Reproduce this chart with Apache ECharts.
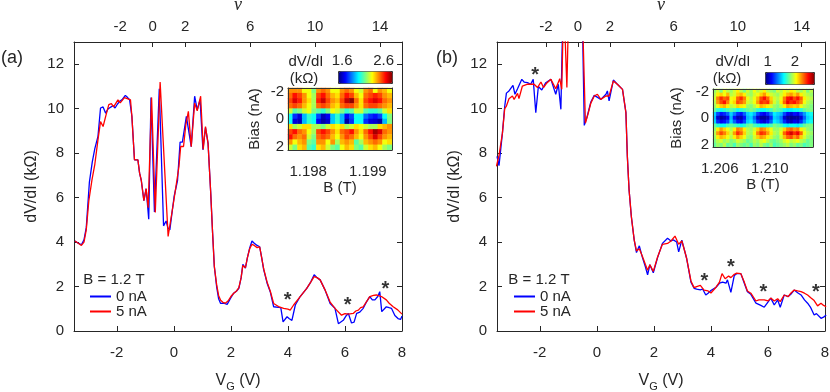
<!DOCTYPE html>
<html>
<head>
<meta charset="utf-8">
<script src="https://cdn.jsdelivr.net/npm/echarts@6.0.0/dist/echarts.min.js"></script>
<style>
  html, body { margin: 0; padding: 0; background: #fff; }
  #chart { width: 830px; height: 392px; }
</style>
</head>
<body>
<div id="chart"></div>
<script>
// ---- panel (a): dV/dI vs V_G ----
var vgA0 = [-3.47,-3.35,-3.24,-3.15,-3.07,-2.96,-2.86,-2.77,-2.66,-2.57,-2.48,-2.39,-2.30,-2.25,-2.13,-2.06,-1.98,-1.90,-1.82,-1.76,-1.70,-1.62,-1.55,-1.47,-1.38,-1.26,-1.20,-1.14,-1.05,-0.97,-0.88,-0.80,-0.68,-0.51,-0.36,-0.27,-0.21,-0.14,0.01,0.13,0.22,0.30,0.44,0.61,0.73,0.82,0.92,1.02,1.11,1.20,1.29,1.36,1.42,1.50,1.57,1.64,1.75,1.87,2.00,2.10,2.20,2.28,2.36,2.42,2.51,2.58,2.66,2.74,2.82,2.92,3.01,3.08,3.15,3.27,3.38,3.50,3.67,3.75,3.83,3.97,4.05,4.14,4.26,4.43,4.66,4.80,4.92,5.02,5.13,5.30,5.48,5.65,5.77,5.94,6.05,6.12,6.23,6.32,6.41,6.52,6.64,6.75,6.87,6.96,7.05,7.15,7.22,7.29,7.45,7.55,7.63,7.75,7.86,7.95,8.00];
var dvA0 = [4.05,3.95,3.88,4.1,4.65,6.7,7.6,8.2,8.75,10.03,10.08,9.8,10.0,10.08,10.14,10.03,10.2,10.33,10.4,10.5,10.6,10.5,10.4,9.65,7.7,7.7,7.1,6.77,5.86,6.4,5.03,10.5,5.35,10.9,4.73,4.95,4.65,4.55,6.05,6.77,8.5,8.5,9.65,8.29,10.56,9.95,10.4,8.15,9.15,8.44,6.3,4.4,2.9,2.0,1.45,1.24,1.25,1.2,1.5,1.7,1.8,1.92,2.4,3.0,2.83,3.3,3.74,4.05,3.95,3.85,3.79,3.3,2.76,2.15,1.77,1.09,1.06,1.05,0.41,0.64,0.55,0.48,1.17,1.55,1.92,2.2,2.53,2.4,2.3,1.85,1.24,1.02,0.33,0.48,0.7,0.79,0.36,0.4,0.79,0.85,1.02,1.3,1.55,1.4,1.4,1.55,1.77,0.87,1.09,1.05,1.02,0.7,0.56,0.52,0.67];
var vgA5 = [-3.47,-3.35,-3.24,-3.15,-3.07,-2.98,-2.87,-2.77,-2.66,-2.57,-2.48,-2.38,-2.28,-2.19,-2.11,-1.96,-1.88,-1.73,-1.61,-1.52,-1.47,-1.38,-1.26,-1.20,-1.14,-1.05,-0.97,-0.90,-0.78,-0.65,-0.48,-0.20,0.01,0.18,0.24,0.34,0.42,0.51,0.61,0.73,0.82,0.94,1.03,1.11,1.20,1.29,1.36,1.42,1.50,1.57,1.64,1.72,1.80,1.90,2.00,2.10,2.20,2.28,2.36,2.42,2.51,2.58,2.66,2.74,2.82,2.92,3.01,3.08,3.15,3.27,3.38,3.50,3.67,3.85,4.00,4.08,4.20,4.43,4.66,4.80,4.92,5.02,5.13,5.30,5.48,5.65,5.88,6.00,6.12,6.29,6.38,6.47,6.55,6.64,6.87,7.00,7.10,7.28,7.45,7.55,7.69,7.85,8.00];
var dvA5 = [4.05,3.95,3.85,4.0,4.55,5.86,6.8,7.5,8.6,9.42,9.2,9.7,10.18,10.23,10.08,10.4,10.26,10.5,10.44,10.4,9.65,7.7,7.7,7.1,6.77,5.86,6.4,5.55,10.5,5.33,11.2,4.25,5.95,7.4,8.3,8.3,9.27,9.88,8.29,10.25,9.9,10.56,8.17,9.2,8.44,6.3,4.4,2.9,2.1,1.6,1.38,1.29,1.25,1.35,1.55,1.7,1.8,1.95,2.4,2.95,2.85,3.3,3.7,3.9,3.85,3.75,3.78,3.3,2.8,2.2,1.8,1.24,1.1,1.02,0.98,0.94,1.17,1.55,1.92,2.2,2.45,2.4,2.3,1.85,1.3,1.02,0.71,0.78,0.76,0.79,0.9,0.94,1.05,1.09,1.55,1.6,1.62,1.55,1.4,1.25,1.09,0.95,0.76];
var starsA = [[3.99, 1.58], [6.09, 1.39], [7.42, 2.08]];

// ---- panel (b) ----
var vgB0 = [-3.50,-3.43,-3.31,-3.23,-3.17,-3.08,-2.94,-2.87,-2.78,-2.73,-2.63,-2.55,-2.43,-2.32,-2.23,-2.14,-2.05,-1.93,-1.79,-1.61,-1.44,-1.35,-1.26,-1.18,-1.00,-0.52,-0.44,-0.35,-0.21,-0.09,-0.04,0.14,0.32,0.37,0.43,0.49,0.58,0.72,0.90,1.02,1.07,1.13,1.21,1.31,1.39,1.49,1.60,1.70,1.78,1.86,1.98,2.13,2.30,2.48,2.60,2.68,2.80,2.87,2.98,3.08,3.15,3.30,3.41,3.50,3.63,3.71,3.82,3.90,4.00,4.18,4.30,4.41,4.53,4.58,4.70,4.82,4.90,5.05,5.17,5.28,5.40,5.58,5.75,5.87,6.00,6.10,6.22,6.34,6.43,6.57,6.71,6.80,6.92,7.04,7.16,7.28,7.39,7.50,7.62,7.70,7.86,7.95,8.04];
var dvB0 = [7.86,7.44,8.9,10.1,10.7,10.8,11.05,10.65,10.9,10.84,11.32,11.2,11.17,11.1,11.32,9.82,11.0,10.84,11.17,11.32,10.65,11.1,9.97,15,16,15,9.25,9.6,10.3,10.6,10.68,10.42,10.65,10.8,10.35,10.39,11.29,11.1,10.87,9.82,7.86,6.36,5.15,4.1,3.53,3.83,3.3,2.9,2.53,2.98,2.62,3.3,3.94,4.17,4.05,4.1,4.0,3.56,4.09,3.6,3.26,2.2,1.92,1.88,1.85,1.89,1.62,1.7,1.82,1.97,2.15,2.2,2.15,2.3,1.74,2.5,2.58,2.58,2.15,1.77,1.65,1.25,1.15,1.07,1.3,1.48,1.17,1.4,1.07,1.62,1.55,1.65,1.84,1.72,1.62,1.4,1.25,1.05,0.72,0.78,0.57,0.62,0.72];
var vgB5 = [-3.52,-3.43,-3.31,-3.23,-3.17,-3.08,-2.96,-2.90,-2.78,-2.73,-2.61,-2.43,-2.20,-2.08,-1.96,-1.87,-1.77,-1.61,-1.44,-1.30,-1.23,-1.16,-1.05,-0.98,-0.52,-0.40,-0.30,-0.21,-0.09,0.02,0.14,0.32,0.43,0.58,0.72,0.90,1.02,1.07,1.13,1.21,1.31,1.39,1.49,1.60,1.70,1.78,1.86,1.98,2.13,2.30,2.48,2.60,2.74,2.87,2.98,3.08,3.15,3.30,3.41,3.50,3.63,3.76,3.90,4.00,4.18,4.30,4.39,4.50,4.62,4.70,4.82,4.90,5.05,5.17,5.28,5.40,5.58,5.68,5.87,6.00,6.10,6.22,6.34,6.43,6.57,6.71,6.80,6.92,7.04,7.16,7.28,7.39,7.50,7.62,7.74,7.86,7.95,8.04];
var dvB5 = [7.41,7.9,8.9,10.0,10.12,10.45,10.57,10.42,10.69,10.45,11.02,11.1,11.1,10.95,11.2,10.95,11.13,11.32,10.9,11.35,10.87,15,10.95,15,15,9.35,9.8,10.25,10.57,10.65,10.42,10.57,10.57,11.25,11.1,10.87,9.82,7.86,6.36,5.15,4.1,3.6,3.7,3.35,3.0,2.73,2.98,2.68,3.33,3.9,3.94,4.05,4.27,3.9,4.05,3.6,3.26,2.25,1.95,2.0,2.05,1.84,1.8,1.71,1.97,2.2,2.58,2.35,2.47,2.4,2.55,2.6,2.58,2.2,1.8,1.7,1.35,1.4,1.4,1.35,1.48,1.35,1.45,1.32,1.62,1.55,1.7,1.84,1.8,1.77,1.7,1.62,1.5,1.37,1.13,1.25,1.15,1.1];
var starsB = [[-2.16, 11.74], [3.77, 2.47], [4.70, 3.08], [5.84, 1.94], [7.68, 1.94]];

// top axis (filling factor) ticks
var nuTicks = [-2, 0, 2, 6, 10, 14];
var vgTicks = [-2, 0, 2, 4, 6, 8];
var dvTicks = [0, 2, 4, 6, 8, 10, 12];

// ---- insets: dV/dI maps (rows: bias -2 .. 2, cols: B) ----
var mapA = [
  [2.45,2.45,2.45,2.3,2.3,2.15,2.45,2.5,2.45,2.3,2.3,2.45,2.5,2.45,2.3,2.25,2.45,2.5,2.3,2.45,2.4,2.3],
  [2.5,2.62,2.55,2.45,2.3,2.2,2.55,2.62,2.5,2.4,2.35,2.5,2.62,2.55,2.4,2.3,2.5,2.55,2.6,2.55,2.45,2.4],
  [2.55,2.68,2.6,2.45,2.35,2.2,2.6,2.7,2.55,2.45,2.4,2.55,2.72,2.78,2.5,2.35,2.55,2.62,2.68,2.62,2.5,2.45],
  [2.5,2.55,2.5,2.4,2.3,2.2,2.5,2.55,2.5,2.4,2.35,2.5,2.55,2.55,2.45,2.35,2.5,2.55,2.55,2.5,2.45,2.4],
  [2.25,2.1,2.15,2.25,2.3,2.15,2.1,2.05,2.15,2.3,2.25,2.15,2.05,2.1,2.25,2.25,2.1,2.05,2.05,2.1,2.25,2.35],
  [2.0,1.72,1.62,1.9,2.05,2.0,1.75,1.58,1.65,1.92,2.05,1.9,1.65,1.75,2.0,2.0,1.8,1.72,1.68,1.75,2.0,2.15],
  [2.0,1.62,1.58,1.9,2.05,2.0,1.65,1.55,1.6,1.92,2.05,1.9,1.55,1.72,2.0,2.0,1.72,1.62,1.6,1.55,1.9,2.15],
  [2.35,2.2,2.25,2.35,2.35,2.2,2.2,2.15,2.25,2.35,2.3,2.35,2.2,2.25,2.35,2.3,2.25,2.2,2.2,2.35,2.4,2.45],
  [2.55,2.62,2.5,2.45,2.3,2.2,2.55,2.62,2.55,2.45,2.35,2.5,2.55,2.62,2.45,2.35,2.5,2.62,2.75,2.68,2.5,2.45],
  [2.62,2.5,2.45,2.5,2.25,2.15,2.5,2.55,2.5,2.4,2.3,2.45,2.55,2.5,2.4,2.3,2.45,2.55,2.68,2.55,2.45,2.4],
  [2.45,2.3,2.4,2.45,2.15,2.1,2.45,2.45,2.3,2.45,2.2,2.4,2.45,2.4,2.1,2.2,2.4,2.45,2.5,2.45,2.3,2.35],
  [2.25,2.15,2.35,2.4,2.1,2.05,2.35,2.4,2.25,2.15,2.1,2.3,2.4,2.35,2.15,2.1,2.25,2.35,2.4,2.3,2.2,2.15]
];
var mapB = [
  [1.85,1.95,1.8,2.0,1.9,1.85,1.95,2.05,1.9,1.8,1.95,1.85,2.0,1.9,1.95,2.05,1.9,1.85,1.8,1.95,1.9,2.0,1.95,2.05,2.0,1.9,1.85,1.95,1.8,1.9],
  [1.9,2.05,2.1,2.0,2.15,1.9,1.95,2.1,2.15,2.05,1.9,1.85,1.95,2.0,2.1,2.2,2.05,1.95,1.9,1.85,1.95,2.05,2.15,2.2,2.1,2.2,2.05,1.95,1.9,1.85],
  [1.95,2.25,2.4,2.3,2.35,2.0,2.05,2.3,2.4,2.25,2.0,1.9,2.0,2.15,2.35,2.45,2.3,2.1,1.95,1.9,2.0,2.25,2.45,2.5,2.35,2.45,2.3,2.05,1.95,1.9],
  [1.9,2.2,2.35,2.45,2.25,2.0,2.1,2.35,2.3,2.2,1.95,1.9,2.0,2.2,2.4,2.35,2.4,2.15,1.95,1.85,2.05,2.3,2.5,2.4,2.45,2.35,2.25,2.0,1.9,1.85],
  [1.85,2.0,2.1,2.15,2.05,1.9,1.95,2.1,2.05,2.0,1.85,1.8,1.9,2.0,2.15,2.1,2.05,1.95,1.85,1.8,1.9,2.05,2.2,2.15,2.1,2.15,2.0,1.9,1.85,1.8],
  [1.75,1.65,1.6,1.65,1.7,1.75,1.7,1.6,1.65,1.7,1.75,1.8,1.75,1.65,1.6,1.6,1.65,1.7,1.8,1.75,1.7,1.6,1.55,1.55,1.6,1.6,1.65,1.75,1.8,1.8],
  [1.5,1.25,1.15,1.2,1.3,1.5,1.35,1.2,1.15,1.3,1.5,1.55,1.45,1.25,1.15,1.1,1.2,1.35,1.55,1.5,1.45,1.25,1.1,1.05,1.15,1.1,1.25,1.4,1.55,1.6],
  [1.45,1.05,0.95,1.0,1.1,1.45,1.15,1.0,0.98,1.15,1.45,1.5,1.3,1.05,0.95,0.95,1.0,1.2,1.5,1.45,1.35,1.05,0.95,0.92,0.95,0.95,1.05,1.3,1.5,1.55],
  [1.5,1.2,1.1,1.15,1.25,1.5,1.3,1.15,1.1,1.25,1.5,1.55,1.4,1.2,1.1,1.05,1.15,1.3,1.55,1.5,1.4,1.2,1.05,1.0,1.1,1.05,1.2,1.4,1.55,1.6],
  [1.75,1.65,1.6,1.6,1.7,1.75,1.7,1.65,1.6,1.65,1.75,1.8,1.7,1.65,1.6,1.6,1.65,1.7,1.8,1.75,1.7,1.6,1.55,1.6,1.6,1.55,1.65,1.75,1.8,1.8],
  [1.85,2.05,2.2,2.1,2.0,1.9,2.05,2.25,2.2,2.05,1.9,1.85,1.95,2.1,2.25,2.2,2.1,2.0,1.85,1.85,1.95,2.1,2.25,2.3,2.2,2.25,2.05,1.95,1.85,1.8],
  [1.9,2.2,2.35,2.25,2.1,1.95,2.2,2.4,2.3,2.1,1.9,1.85,2.0,2.25,2.4,2.35,2.2,2.05,1.9,1.85,2.0,2.3,2.45,2.55,2.4,2.5,2.3,2.0,1.9,1.85],
  [1.85,2.05,2.15,2.1,2.0,1.9,2.05,2.2,2.1,2.0,1.85,1.8,1.95,2.1,2.2,2.15,2.05,1.95,1.85,1.8,1.95,2.15,2.3,2.35,2.2,2.3,2.1,1.95,1.85,1.8],
  [1.8,1.9,1.95,1.85,1.9,1.8,1.85,1.95,1.9,1.85,1.75,1.8,1.9,1.85,1.95,2.0,1.9,1.8,1.75,1.8,1.85,1.95,2.0,1.9,1.95,2.0,1.9,1.85,1.75,1.8],
  [1.75,1.85,1.8,1.9,1.75,1.8,1.7,1.85,1.8,1.75,1.8,1.7,1.85,1.8,1.9,1.8,1.75,1.85,1.7,1.75,1.8,1.85,1.9,1.8,1.85,1.75,1.8,1.7,1.75,1.8]
];
var bTicksA = [1.198, 1.199];
var bTicksB = [1.206, 1.210];
var biasTicks = [-2, 0, 2];
var cbTicksA = [1.6, 2.6];
var cbTicksB = [1, 2];

var jet = ['#00007f', '#0000ff', '#007fff', '#00ffff', '#7fff7f', '#ffff00', '#ff7f00', '#ff0000', '#7f0000'];
var ink = '#262626';
var font = 'Liberation Sans, Arial, sans-serif';

function zip(xs, ys) {
  return xs.map(function (x, i) { return [x, ys[i]]; });
}
function cells(rows) {
  var out = [];
  rows.forEach(function (row, r) {
    row.forEach(function (v, c) { out.push([c, r, v]); });
  });
  return out;
}
function idx(n) {
  var a = [];
  for (var i = 0; i < n; i++) a.push(i);
  return a;
}

var lineAxis = { show: true, onZero: false, lineStyle: { color: ink, width: 1 } };
var lbl = { color: ink, fontSize: 15, fontFamily: font };

function mainX(grid) {
  return {
    gridIndex: grid, type: 'value', min: -3.5, max: 8, position: 'bottom',
    axisLine: lineAxis,
    axisTick: { inside: true, length: 5, customValues: vgTicks, lineStyle: { color: ink } },
    axisLabel: Object.assign({ margin: 14, customValues: vgTicks }, lbl),
    splitLine: { show: false },
    name: 'V{s|G} (V)', nameLocation: 'middle', nameGap: 38,
    nameTextStyle: { color: ink, fontSize: 16, fontFamily: font,
      rich: { s: { fontSize: 11, color: ink, fontFamily: font, padding: [12, 0, 0, 0] } } }
  };
}
function nuX(grid, lo, hi) {
  return {
    gridIndex: grid, type: 'value', min: lo, max: hi, position: 'top',
    axisLine: lineAxis,
    axisTick: { inside: true, length: 5, customValues: nuTicks, lineStyle: { color: ink } },
    axisLabel: Object.assign({ margin: 8, customValues: nuTicks }, lbl),
    splitLine: { show: false },
    name: 'ν', nameLocation: 'middle', nameGap: 22,
    nameTextStyle: { color: ink, fontSize: 18, fontStyle: 'italic', fontFamily: 'Liberation Serif, serif' }
  };
}
function mainY(grid, right) {
  return {
    gridIndex: grid, type: 'value', min: 0, max: 13, position: right ? 'right' : 'left',
    axisLine: lineAxis,
    axisTick: { inside: true, length: 5, customValues: dvTicks, lineStyle: { color: ink } },
    axisLabel: Object.assign({ show: !right, margin: 10, customValues: dvTicks }, lbl),
    splitLine: { show: false },
    name: right ? '' : 'dV/dI (kΩ)', nameLocation: 'middle', nameGap: 34,
    nameTextStyle: { color: ink, fontSize: 16, fontFamily: font }
  };
}
function catAxis(grid, n, pos, inverse) {
  return {
    gridIndex: grid, type: 'category', data: idx(n), position: pos, inverse: !!inverse, z: 5,
    axisLine: { show: true, onZero: false, lineStyle: { color: '#333', width: 1 } },
    axisTick: { show: false }, axisLabel: { show: false }, splitLine: { show: false }
  };
}
function insetB(grid, lo, hi, ticks, gap) {
  return {
    gridIndex: grid, type: 'value', min: lo, max: hi, position: 'bottom', z: 5,
    axisLine: { show: true, onZero: false, lineStyle: { color: '#333', width: 1 } },
    axisTick: { show: false },
    axisLabel: Object.assign({ margin: 14, customValues: ticks, formatter: function (v) { return v.toFixed(3); } }, lbl),
    splitLine: { show: false },
    name: 'B (T)', nameLocation: 'middle', nameGap: gap,
    nameTextStyle: { color: ink, fontSize: 15, fontFamily: font }
  };
}
function insetBias(grid, lim, gap) {
  return {
    gridIndex: grid, type: 'value', min: -lim, max: lim, inverse: true, position: 'left', z: 5,
    axisLine: { show: true, onZero: false, lineStyle: { color: '#333', width: 1 } },
    axisTick: { show: false },
    axisLabel: Object.assign({ margin: 4, customValues: biasTicks }, lbl),
    splitLine: { show: false },
    name: 'Bias (nA)', nameLocation: 'middle', nameGap: gap,
    nameTextStyle: { color: ink, fontSize: 15, fontFamily: font }
  };
}
function cbAxis(grid, lo, hi, ticks) {
  return {
    gridIndex: grid, type: 'value', min: lo, max: hi, position: 'top',
    axisLine: { show: false }, axisTick: { show: false },
    axisLabel: Object.assign({ margin: 3, customValues: ticks }, lbl),
    splitLine: { show: false }
  };
}
function hiddenY(grid) {
  return { gridIndex: grid, type: 'value', show: false, min: 0, max: 1 };
}
function line(name, color, xi, data) {
  return {
    type: 'line', name: name, xAxisIndex: xi, yAxisIndex: xi, data: data,
    symbol: 'none', color: color, lineStyle: { color: color, width: 1.3 }, clip: true, z: 3
  };
}
function stars(xi, data) {
  return {
    type: 'scatter', xAxisIndex: xi, yAxisIndex: xi, data: data, symbolSize: 1,
    itemStyle: { color: 'rgba(0,0,0,0)' }, z: 4,
    label: { show: true, position: 'inside', formatter: '*', fontSize: 20, fontWeight: 'bold',
      color: '#000', fontFamily: font, offset: [0, 5] }
  };
}
function legend(left) {
  return {
    data: ['0 nA', '5 nA'], orient: 'vertical', left: left, top: 289, padding: 0,
    itemWidth: 21, itemHeight: 2, icon: 'rect', itemGap: 0, selectedMode: false,
    textStyle: { color: ink, fontSize: 15, fontFamily: font, lineHeight: 14 }
  };
}
function text(x, y, s, size) {
  return { type: 'text', x: x, y: y, z: 10,
    style: { text: s, fill: ink, font: (size || 15) + 'px ' + font, align: 'center', verticalAlign: 'middle' } };
}
function grid(l, t, w, h) {
  return { left: l, top: t, width: w, height: h, outerBoundsMode: 'none', containLabel: false };
}

var option = {
  animation: false,
  backgroundColor: '#fff',
  grid: [
    grid(74, 42, 328, 289),
    grid(497, 42, 328, 289),
    grid(288, 88, 104, 62),
    grid(713, 89, 100, 58),
    grid(338, 71, 54, 12),
    grid(765, 72, 49, 12)
  ],
  xAxis: [
    mainX(0), nuX(0, -4.84, 15.35),
    mainX(1), nuX(1, -5.06, 15.46),
    catAxis(2, 22, 'top'), insetB(2, 1.197662, 1.199405, bTicksA, 25),
    catAxis(3, 30, 'top'), insetB(3, 1.205464, 1.213464, bTicksB, 30),
    cbAxis(4, 1.5, 2.8, cbTicksA), cbAxis(5, 0.9, 2.7, cbTicksB)
  ],
  yAxis: [
    mainY(0, false), mainY(0, true),
    mainY(1, false), mainY(1, true),
    catAxis(2, 12, 'right', true), insetBias(2, 2.25, 26),
    catAxis(3, 15, 'right', true), insetBias(3, 2.2, 29),
    hiddenY(4), hiddenY(5)
  ],
  legend: [legend(90), legend(514)],
  visualMap: [
    { type: 'continuous', seriesIndex: 6, min: 1.5, max: 2.8, inRange: { color: jet },
      orient: 'horizontal', left: 338, top: 71, itemWidth: 12, itemHeight: 54,
      calculable: false, hoverLink: false, padding: 0, borderColor: '#333', borderWidth: 1 },
    { type: 'continuous', seriesIndex: 7, min: 0.9, max: 2.7, inRange: { color: jet },
      orient: 'horizontal', left: 765, top: 72, itemWidth: 12, itemHeight: 49,
      calculable: false, hoverLink: false, padding: 0, borderColor: '#333', borderWidth: 1 }
  ],
  series: [
    line('0 nA', '#0000ff', 0, zip(vgA0, dvA0)),
    line('5 nA', '#ff0000', 0, zip(vgA5, dvA5)),
    stars(0, starsA),
    line('0 nA', '#0000ff', 2, zip(vgB0, dvB0)),
    line('5 nA', '#ff0000', 2, zip(vgB5, dvB5)),
    stars(2, starsB),
    { type: 'heatmap', xAxisIndex: 4, yAxisIndex: 4, data: cells(mapA), z: 2 },
    { type: 'heatmap', xAxisIndex: 6, yAxisIndex: 6, data: cells(mapB), z: 2 }
  ],
  graphic: [
    text(12, 58, '(a)', 18), text(447, 58, '(b)', 18),
    text(114, 280, 'B = 1.2 T'), text(539, 280, 'B = 1.2 T'),
    text(306, 62, 'dV/dI'), text(304, 79, '(kΩ)'),
    text(733, 62, 'dV/dI'), text(727, 79, '(kΩ)')
  ]
};

var chart = echarts.init(document.getElementById('chart'), null, { renderer: 'canvas' });
chart.setOption(option);
</script>
</body>
</html>
